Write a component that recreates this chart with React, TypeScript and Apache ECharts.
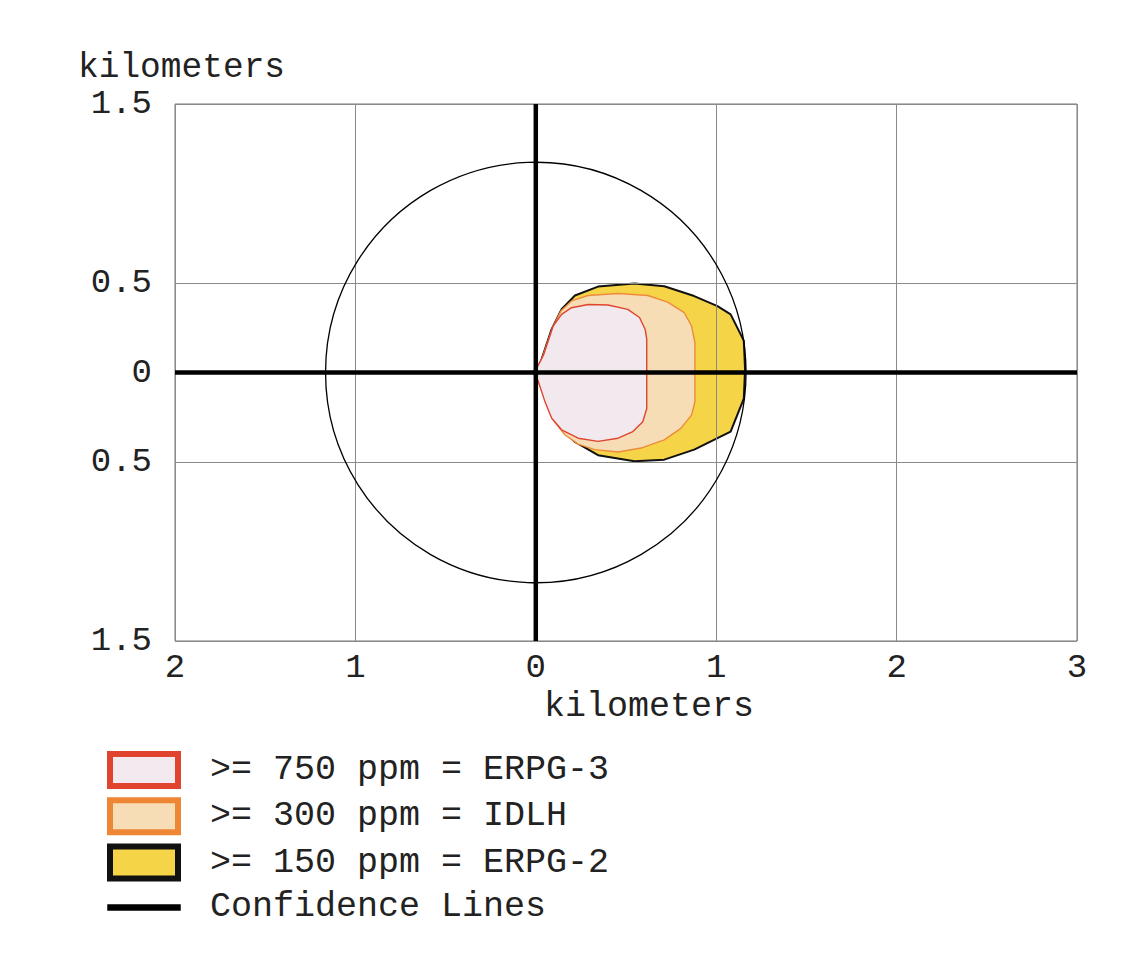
import { useEffect, useRef } from 'react';
import * as echarts from 'echarts';

const FONT = "'Liberation Mono', 'Courier New', monospace";

// axis ranges and ticks (km)
const xRange = [-2, 3];
const yRange = [-1.5, 1.5];
const xTickValues = [-2, -1, 0, 1, 2, 3];
const xTickLabels = ['2', '1', '0', '1', '2', '3'];
const yTickValues = [-1.5, -0.5, 0.5, 1.5];
const yTickLabels = ['1.5', '0.5', '0.5', '1.5'];
const yZeroLabel = '0';
const axisName = 'kilometers';

// legend
const zoneNames = ['>= 750 ppm = ERPG-3', '>= 300 ppm = IDLH', '>= 150 ppm = ERPG-2'];
const confidenceName = 'Confidence Lines';

// threat zones (km)
const erpg2Zone = [
  [0, 0], [0.033, 0.076], [0.088, 0.242], [0.143, 0.353], [0.217, 0.43], [0.345, 0.48],
  [0.547, 0.497], [0.712, 0.482], [0.878, 0.427], [1.007, 0.371], [1.08, 0.325], [1.153, 0.178],
  [1.16, 0.02], [1.153, -0.146], [1.08, -0.33], [1.007, -0.367], [0.878, -0.431], [0.712, -0.487],
  [0.547, -0.496], [0.345, -0.462], [0.217, -0.388], [0.125, -0.293], [0.07, -0.164], [0.024, -0.071],
];
const idlhZone = [
  [0, 0], [0.037, 0.085], [0.093, 0.25], [0.14, 0.345], [0.198, 0.4], [0.29, 0.43], [0.456, 0.441],
  [0.621, 0.43], [0.731, 0.393], [0.823, 0.334], [0.863, 0.261], [0.882, 0.168], [0.882, -0.164],
  [0.863, -0.238], [0.804, -0.312], [0.712, -0.376], [0.584, -0.422], [0.456, -0.444], [0.327, -0.431],
  [0.235, -0.4], [0.161, -0.348], [0.1, -0.27], [0.055, -0.16], [0.02, -0.065],
];
const erpg3Zone = [
  [-0.025, 0], [0.003, 0.02], [0.042, 0.095], [0.097, 0.261], [0.143, 0.325], [0.198, 0.362],
  [0.29, 0.38], [0.4, 0.377], [0.51, 0.353], [0.575, 0.307], [0.606, 0.242], [0.615, 0.187],
  [0.615, -0.201], [0.593, -0.275], [0.538, -0.33], [0.456, -0.367], [0.345, -0.385], [0.235, -0.367],
  [0.143, -0.32], [0.088, -0.256], [0.051, -0.164], [0.018, -0.062], [0.003, -0.02],
];

// confidence lines and circle
const confidenceH = [[-2, 0], [3, 0]];
const confidenceV = [[0, -1.5], [0, 1.5]];
const circleCenter = [0, 0];
const circleRadius = 1.17;

const zoneSeries = (name: string, pts: number[][], fill: string, stroke: string, lw: number) => ({
  type: 'custom',
  name,
  coordinateSystem: 'cartesian2d',
  xAxisIndex: 0,
  yAxisIndex: 0,
  z: 1,
  silent: true,
  data: [[0, 0]],
  itemStyle: { color: fill, borderColor: stroke },
  renderItem: (_p: any, api: any) => ({
    type: 'polygon',
    shape: { points: pts.map((p) => api.coord(p)) },
    style: { fill, stroke, lineWidth: lw, lineJoin: 'round' },
  }),
});

const lineSeries = (data: number[][]) => ({
  type: 'line',
  name: confidenceName,
  data,
  symbol: 'none',
  silent: true,
  z: 5,
  lineStyle: { color: '#000', width: 4.5 },
});

const option: any = {
  animation: false,
  backgroundColor: '#fff',
  grid: {
    left: 175,
    right: 67,
    top: 104,
    bottom: 324,
    show: true,
    borderColor: '#777',
    borderWidth: 1,
  },
  graphic: [
    {
      type: 'text',
      left: 78,
      top: 50,
      style: { text: axisName, font: `34.5px ${FONT}`, fill: '#222', lineHeight: 30 },
    },
  ],
  xAxis: {
    type: 'value',
    min: xRange[0],
    max: xRange[1],
    interval: 1,
    z: 3,
    axisLine: { show: false },
    axisTick: { show: false },
    splitLine: { show: true, lineStyle: { color: '#8a8a8a', width: 1 } },
    axisLabel: {
      margin: 10,
      fontFamily: FONT,
      fontSize: 34,
      color: '#222',
      formatter: (v: number) => {
        const i = xTickValues.indexOf(v);
        return i >= 0 ? xTickLabels[i] : '';
      },
    },
    name: axisName,
    nameLocation: 'middle',
    nameGap: 46,
    nameTextStyle: { fontFamily: FONT, fontSize: 35, color: '#222', padding: [0, 0, 0, 46] },
  },
  yAxis: [
    {
      type: 'value',
      min: yRange[0],
      max: yRange[1],
      interval: 1,
      position: 'left',
      z: 3,
      axisLine: { show: false },
      axisTick: { show: false },
      splitLine: { show: true, lineStyle: { color: '#8a8a8a', width: 1 } },
      axisLabel: {
        margin: 23,
        fontFamily: FONT,
        fontSize: 34,
        lineHeight: 28,
        color: '#222',
        formatter: (v: number) => {
          const i = yTickValues.findIndex((t) => Math.abs(t - v) < 1e-9);
          return i >= 0 ? yTickLabels[i] : '';
        },
      },
    },
    {
      type: 'value',
      min: yRange[0],
      max: yRange[1],
      interval: 1.5,
      position: 'left',
      offset: 0,
      axisLine: { show: false },
      axisTick: { show: false },
      splitLine: { show: false },
      axisLabel: {
        margin: 23,
        fontFamily: FONT,
        fontSize: 34,
        lineHeight: 28,
        color: '#222',
        formatter: (v: number) => (Math.abs(v) < 1e-9 ? yZeroLabel : ''),
      },
    },
  ],
  legend: {
    orient: 'vertical',
    left: 107,
    top: 751,
    padding: 0,
    itemWidth: 68,
    itemHeight: 32,
    itemGap: 8.3,
    selectedMode: false,
    textStyle: { fontFamily: FONT, fontSize: 35, color: '#222', lineHeight: 32, padding: [0, 0, 0, 27] },
    data: [
      { name: zoneNames[0], icon: 'rect', itemStyle: { color: '#f2eaef', borderColor: '#e0442f', borderWidth: 6 } },
      { name: zoneNames[1], icon: 'rect', itemStyle: { color: '#f7ddb6', borderColor: '#ee8635', borderWidth: 6 } },
      { name: zoneNames[2], icon: 'rect', itemStyle: { color: '#f6d447', borderColor: '#111', borderWidth: 6 } },
      { name: confidenceName, icon: 'path://M0,0H68V1H0Z', itemStyle: { color: '#000', borderColor: '#000', borderWidth: 5.5 } },
    ],
  },
  series: [
    zoneSeries(zoneNames[2], erpg2Zone, '#f6d447', '#111', 2),
    zoneSeries(zoneNames[1], idlhZone, '#f7ddb6', '#ee8a3c', 1.4),
    zoneSeries(zoneNames[0], erpg3Zone, '#f1e9ee', '#e0442f', 1.4),
    {
      type: 'custom',
      coordinateSystem: 'cartesian2d',
      silent: true,
      z: 4,
      data: [circleCenter],
      renderItem: (_p: any, api: any) => {
        const c = api.coord(circleCenter);
        const s = api.size([circleRadius, circleRadius]);
        return {
          type: 'circle',
          shape: { cx: c[0], cy: c[1], r: (s[0] + s[1]) / 2 },
          style: { fill: 'none', stroke: '#000', lineWidth: 1.3 },
        };
      },
    },
    lineSeries(confidenceH),
    lineSeries(confidenceV),
  ],
};

export default function App() {
  const ref = useRef<HTMLDivElement>(null);
  useEffect(() => {
    const chart = echarts.init(ref.current!, null, { renderer: 'svg' });
    chart.setOption(option);
    return () => chart.dispose();
  }, []);
  return (
    <div
      ref={ref}
      style={{ position: 'fixed', left: 0, top: 0, width: 1144, height: 965, background: '#fff' }}
    />
  );
}
